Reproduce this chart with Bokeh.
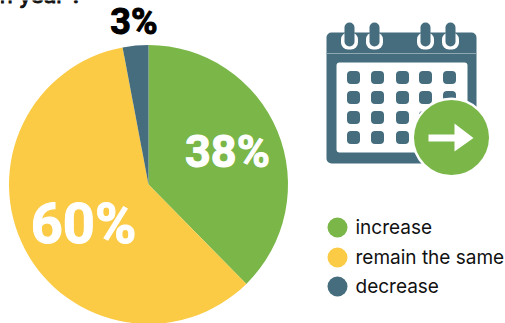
import math
from bokeh.plotting import figure
from bokeh.models import Range1d
from bokeh.core.properties import value
from bokeh.embed import file_html
from bokeh.resources import INLINE

W, H = 505, 323
categories = ["increase", "remain the same", "decrease"]
shares = [38, 60, 3]
labels = ["38%", "60%", "3%"]
colors = ["#7AB648", "#FBCB46", "#456D7E"]
GREEN, YELLOW, SLATE = colors
INK = "#111111"
HEAVY = "Roboto"
BODY = "Inter"


def Y(y):
    # layout is written from the top edge; the y axis runs upward
    return H - y


p = figure(width=W, height=H, output_backend="svg", toolbar_location=None,
           x_range=Range1d(0, W), y_range=Range1d(0, H), min_border=0,
           x_axis_type=None, y_axis_type=None, outline_line_color=None,
           background_fill_color="white", border_fill_color="white")
p.grid.visible = False

# pie, clockwise from twelve o'clock, shares normalised by their sum
total = sum(shares)
cx, cy, r = 148, 184, 139.5
acc = 0
for share, col in zip(shares, colors):
    a0 = math.pi / 2 - acc / total * 2 * math.pi
    acc += share
    a1 = math.pi / 2 - acc / total * 2 * math.pi
    p.wedge(x=cx, y=Y(cy), radius=r, start_angle=a0, end_angle=a1, direction="clock",
            fill_color=col, line_color=None)


def txt(x, y, s, size, color, font, style="normal", align="left", outline=None):
    # y is the vertical middle of the capitals
    p.text(x=[x], y=[Y(y)], text=[s], text_font=value(font), text_font_size=f"{size}px",
           text_font_style=style, text_color=color, text_align=align,
           text_baseline="middle", text_outline_color=outline)


# tail of the question, running off the top edge
txt(-6, -6, "in year ?", 22, INK, BODY, outline=INK)

# percentage labels, stroked for extra weight
txt(227, 150.5, labels[0], 45, "white", HEAVY, "bold", "center", "white")
txt(83, 223, labels[1], 56, "white", HEAVY, "bold", "center", "white")
txt(133.5, 21, labels[2], 36, "black", HEAVY, "bold", "center", "black")


def box(l, t, r_, b, color, radius=0):
    p.quad(left=[l], right=[r_], top=[Y(t)], bottom=[Y(b)], fill_color=color,
           line_color=None, border_radius=radius)


# calendar body and header rule
box(326, 32, 476, 163, SLATE, 5)
p.segment(x0=[326], x1=[476], y0=[Y(53)], y1=[Y(53)], line_color="#8FA8B2", line_width=1)
box(336, 62, 467, 152, "white", 3)

# binder rings
for x in [349, 374, 425, 450]:
    box(x - 8.5, 32, x + 8.5, 49, "white", 7)
    box(x - 5, 22, x + 5, 46, SLATE, 5)

# day cells
for cy_ in [77, 97, 117, 137]:
    for cx_ in [353, 377, 402, 425, 449]:
        box(cx_ - 6.5, cy_ - 6.5, cx_ + 6.5, cy_ + 6.5, SLATE, 4)

# overlaid arrow badge
p.circle(x=[451], y=[Y(137)], radius=40, fill_color="white", line_color=None)
p.circle(x=[451], y=[Y(137)], radius=37.5, fill_color=GREEN, line_color=None)
box(428, 134, 455, 141, "white")
p.patch(x=[454, 473, 454], y=[Y(123), Y(137.5), Y(151)], fill_color="white", line_color=None)

# legend
for yy, col, name in zip([227, 257, 286], colors, categories):
    p.circle(x=[337], y=[Y(yy)], radius=10, fill_color=col, line_color=None)
    txt(355, yy, name, 19, INK, BODY)

open("out.html", "w").write(file_html(p, INLINE))
